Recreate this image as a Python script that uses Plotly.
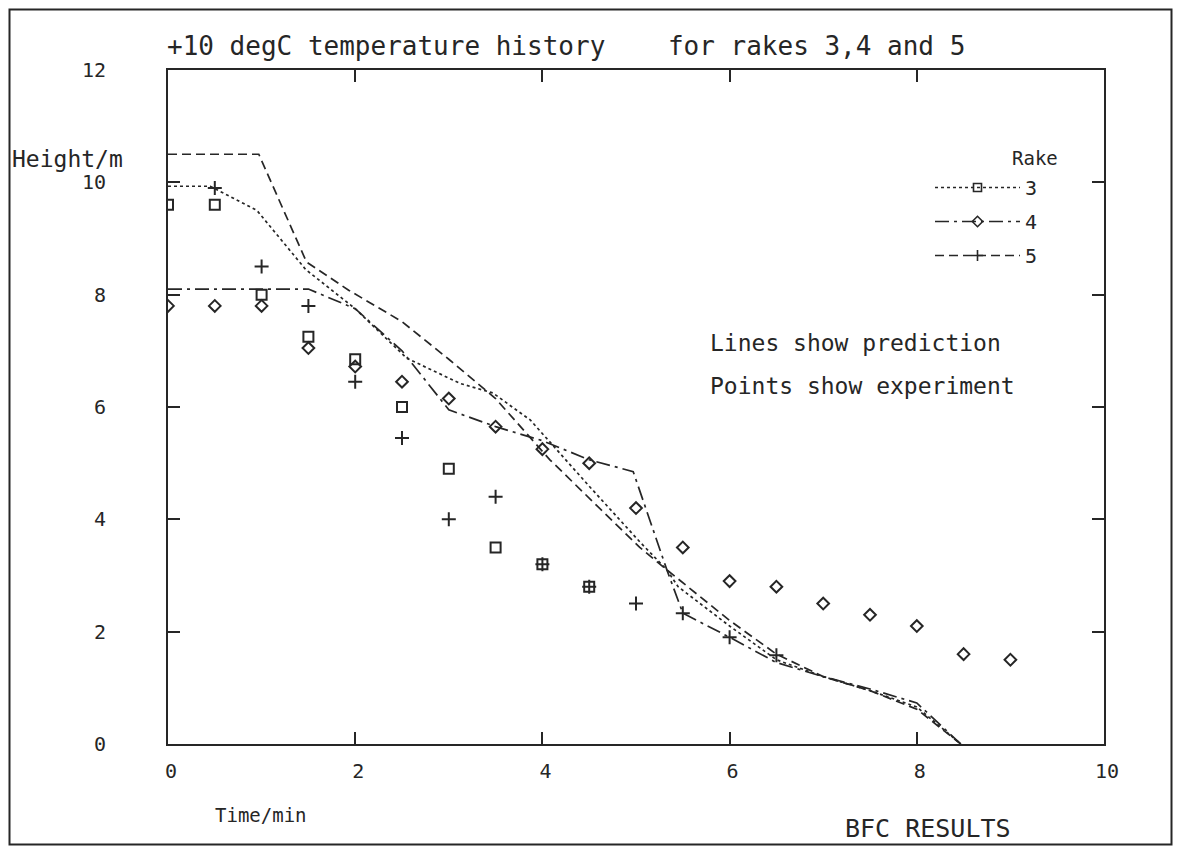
import plotly.graph_objects as go

FONT = "DejaVu Sans Mono"
INK = "#262626"

# ---- data ----
x_ticks = [0, 2, 4, 6, 8, 10]
y_ticks = [0, 2, 4, 6, 8, 10, 12]

# predictions (lines)
rake3_pred_t = [0, 0.45, 0.95, 1.47, 2, 2.55, 3.12, 3.47, 3.87, 4.5, 5.04, 5.33, 5.45, 6, 6.5, 7, 7.5, 8, 8.47]
rake3_pred_h = [9.93, 9.93, 9.5, 8.45, 7.75, 6.87, 6.42, 6.25, 5.77, 4.59, 3.6, 3.1, 2.8, 2.1, 1.5, 1.2, 0.95, 0.66, 0]
rake4_pred_t = [0, 1.5, 2, 2.5, 3, 3.5, 4, 4.5, 4.97, 5.33, 5.5, 6, 6.5, 7, 7.5, 8, 8.47]
rake4_pred_h = [8.1, 8.1, 7.75, 7.0, 5.95, 5.65, 5.4, 5.06, 4.85, 3.1, 2.33, 1.9, 1.45, 1.2, 0.98, 0.73, 0]
rake5_pred_t = [0, 0.97, 1.48, 1.93, 2.5, 3, 3.5, 4.08, 5.04, 5.33, 6, 6.5, 7, 7.5, 8, 8.47]
rake5_pred_h = [10.5, 10.5, 8.58, 8.08, 7.52, 6.85, 6.15, 5.06, 3.5, 3.1, 2.2, 1.6, 1.2, 0.95, 0.62, 0]

# experiments (points)
rake3_exp_t = [0, 0.5, 1, 1.5, 2, 2.5, 3, 3.5, 4, 4.5]
rake3_exp_h = [9.6, 9.6, 8.0, 7.25, 6.85, 6.0, 4.9, 3.5, 3.2, 2.8]
rake4_exp_t = [0, 0.5, 1, 1.5, 2, 2.5, 3, 3.5, 4, 4.5, 5, 5.5, 6, 6.5, 7, 7.5, 8, 8.5, 9]
rake4_exp_h = [7.8, 7.8, 7.8, 7.05, 6.72, 6.45, 6.15, 5.65, 5.25, 5.0, 4.2, 3.5, 2.9, 2.8, 2.5, 2.3, 2.1, 1.6, 1.5]
rake5_exp_t = [0.5, 1, 1.5, 2, 2.5, 3, 3.5, 4, 4.5, 5, 5.5, 6, 6.5]
rake5_exp_h = [9.9, 8.5, 7.8, 6.45, 5.45, 4.0, 4.4, 3.2, 2.8, 2.5, 2.33, 1.9, 1.58]

rake_names = ["3", "4", "5"]
rake_dash = ["dot", "14px,5px,3px,5px", "9px,5px"]
rake_symbol = ["square-open", "diamond-open", "cross-thin"]

fig = go.Figure()

preds = [(rake3_pred_t, rake3_pred_h), (rake4_pred_t, rake4_pred_h), (rake5_pred_t, rake5_pred_h)]
exps = [(rake3_exp_t, rake3_exp_h), (rake4_exp_t, rake4_exp_h), (rake5_exp_t, rake5_exp_h)]
msize = [10, 9, 10]

for i, (t, h) in enumerate(preds):
    fig.add_trace(go.Scatter(x=t, y=h, mode="lines", showlegend=False,
                             line=dict(color=INK, width=1.7, dash=rake_dash[i])))
for i, (t, h) in enumerate(exps):
    fig.add_trace(go.Scatter(x=t, y=h, mode="markers", showlegend=False,
                             marker=dict(symbol=rake_symbol[i], size=msize[i], color=INK,
                                         line=dict(color=INK, width=2))))
# legend entries
for i in range(3):
    fig.add_trace(go.Scatter(x=[None], y=[None], mode="lines+markers", name=rake_names[i],
                             legendgroup="g" + rake_names[i],
                             line=dict(color=INK, width=1.7, dash=rake_dash[i]),
                             marker=dict(symbol=rake_symbol[i], size=8, color=INK,
                                         line=dict(color=INK, width=1.6))))

axis_common = dict(showline=True, linecolor=INK, linewidth=2, mirror="ticks",
                   ticks="inside", ticklen=12, tickwidth=2, tickcolor=INK,
                   showgrid=False, zeroline=False,
                   tickfont=dict(family=FONT, size=20, color=INK))

fig.update_xaxes(range=[0, 10], tickvals=x_ticks, ticktext=[str(v) for v in x_ticks],
                 ticklabelstandoff=8, ticklabelshift=3, **axis_common)
fig.update_yaxes(range=[0, 12], tickvals=y_ticks, ticktext=[str(v) for v in y_ticks],
                 ticklabelstandoff=56, **axis_common)

# page offset of the plot div inside the browser page
O = 8
W, H = 1181 - 2 * O, 854 - 2 * O
L, R, T, B = 168, 1104, 70, 744   # plot area in reference pixels
pw, ph = R - L, B - T


def px(xp):
    return (xp - L) / pw


def py(yp):
    return (B - yp) / ph


ann = []


def text(s, xp, yp, size, anchor="left"):
    ann.append(dict(text=s, x=px(xp), y=py(yp), xref="paper", yref="paper",
                    xanchor=anchor, yanchor="middle", showarrow=False,
                    font=dict(family=FONT, size=size, color=INK)))


text("+10 degC temperature history    for rakes 3,4 and 5", 165, 46, 26)
text("Height/m", 10, 159, 23)
text("Rake", 1010, 158, 19)
text("Lines show prediction", 708, 343, 23)
text("Points show experiment", 708, 386, 23)
text("Time/min", 213, 815, 19)
text("BFC RESULTS", 843, 828, 25)

fig.update_layout(
    width=W, height=H,
    margin=dict(l=L - O, r=W - (R - O), t=T - O, b=H - (B - O)),
    paper_bgcolor="white", plot_bgcolor="white",
    annotations=ann,
    legend=dict(x=px(930), y=py(168), xanchor="left", yanchor="top",
                itemwidth=85, font=dict(family=FONT, size=20, color=INK),
                bgcolor="rgba(0,0,0,0)", tracegroupgap=5),
    shapes=[dict(type="rect", xref="paper", yref="paper",
                 x0=px(O + 1.5), x1=px(O + W - 1.5), y0=py(O + H - 1.5), y1=py(O + 1.5),
                 line=dict(color=INK, width=2))],
)

fig.write_html("out.html")
